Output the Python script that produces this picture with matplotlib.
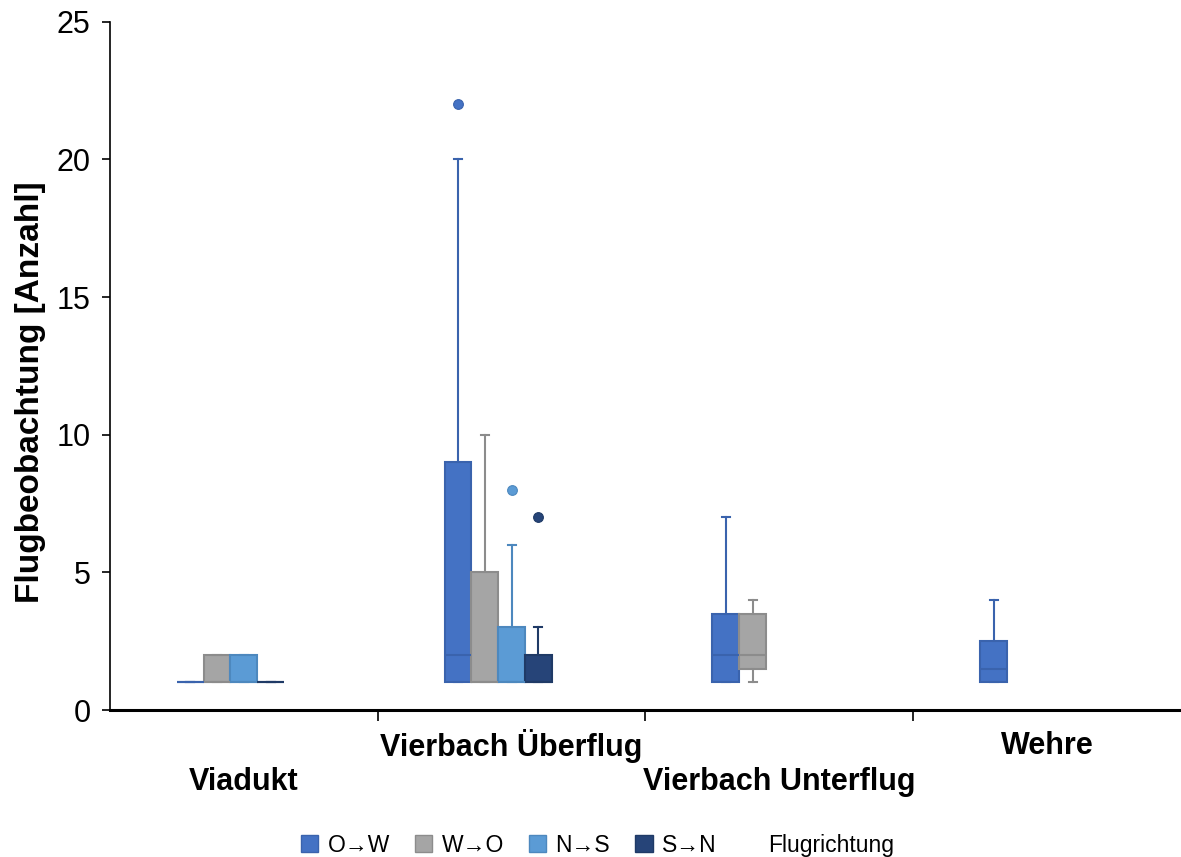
import matplotlib.pyplot as plt
from matplotlib.patches import Patch

plt.rcParams['font.family'] = ['Liberation Sans', 'DejaVu Sans']

# === Daten ===
standorte = ["Viadukt", "Vierbach Überflug", "Vierbach Unterflug", "Wehre"]
richtungen = ["O→W", "W→O", "N→S", "S→N"]
farben = ["#4472C4", "#A5A5A5", "#5B9BD5", "#264478"]
kanten = ["#3A63AD", "#8C8C8C", "#4D88BE", "#1F3A66"]

# Box-Statistik je Standort und Richtung: (whislo, q1, med, q3, whishi, Ausreißer); None = keine Daten
stats = {
    "O→W": [(1, 1, 1, 1, 1, []), (1, 1, 2, 9, 20, [22]), (1, 1, 2, 3.5, 7, []), (1, 1, 1.5, 2.5, 4, [])],
    "W→O": [(1, 1, 1, 2, 2, []), (1, 1, 1, 5, 10, []), (1, 1.5, 2, 3.5, 4, []), None],
    "N→S": [(1, 1, 1, 2, 2, []), (1, 1, 1, 3, 6, [8]), None, None],
    "S→N": [(1, 1, 1, 1, 1, []), (1, 1, 1, 2, 3, [7]), None, None],
}

fig = plt.figure(figsize=(11.81, 8.57), dpi=100)
ax = fig.add_axes([0.0931, 0.1715, 0.9069, 0.803])

n_slots = 5  # 5. Serie "Flugrichtung" ist leer
slot = 0.1
for k, r in enumerate(richtungen):
    bxps, pos = [], []
    for i, s in enumerate(stats[r]):
        if s is None:
            continue
        lo, q1, med, q3, hi, fl = s
        bxps.append(dict(whislo=lo, q1=q1, med=med, q3=q3, whishi=hi, fliers=fl))
        pos.append(i + (k - (n_slots - 1) / 2) * slot)
    ax.bxp(bxps, positions=pos, widths=slot, patch_artist=True, manage_ticks=False,
           capwidths=0.03,
           boxprops=dict(facecolor=farben[k], edgecolor=kanten[k], linewidth=1.5),
           medianprops=dict(color=kanten[k], linewidth=1.5),
           whiskerprops=dict(color=kanten[k], linewidth=1.5),
           capprops=dict(color=kanten[k], linewidth=1.5),
           flierprops=dict(marker='o', markersize=7, markerfacecolor=farben[k],
                           markeredgecolor=kanten[k], markeredgewidth=0.8))

ax.set_xlim(-0.5, len(standorte) - 0.5)
ax.set_ylim(0, 25)
ax.set_yticks([0, 5, 10, 15, 20, 25])
ax.tick_params(axis='y', labelsize=22, length=6, width=1.2, direction='out', pad=8)
ax.set_ylabel("Flugbeobachtung [Anzahl]", fontsize=24, fontweight='bold')
ax.yaxis.set_label_coords(-0.06, 0.462)

# Kategorie-Trennstriche an den Grenzen
ax.set_xticks([0.5, 1.5, 2.5])
ax.set_xticklabels([])
ax.tick_params(axis='x', length=8, width=1.2, direction='out')
for i, name in enumerate(standorte):
    yoff = -0.052 if i % 2 == 1 else -0.105
    ax.text(i, yoff, name, transform=ax.get_xaxis_transform(), ha='center', va='center',
            fontsize=22, fontweight='bold')

ax.spines['top'].set_visible(False)
ax.spines['right'].set_visible(False)
ax.spines['left'].set_linewidth(1.2)
ax.spines['bottom'].set_linewidth(2.2)

handles = [Patch(facecolor=farben[k], edgecolor=kanten[k], label=r) for k, r in enumerate(richtungen)]
handles.append(Patch(facecolor='none', edgecolor='none', label="Flugrichtung"))
fig.legend(handles=handles, loc='center', bbox_to_anchor=(0.506, 0.014), ncol=5, frameon=False,
           fontsize=16.5, handlelength=0.75, handleheight=0.75, handletextpad=0.4, columnspacing=1.1)

plt.savefig("out.png", dpi=100)
